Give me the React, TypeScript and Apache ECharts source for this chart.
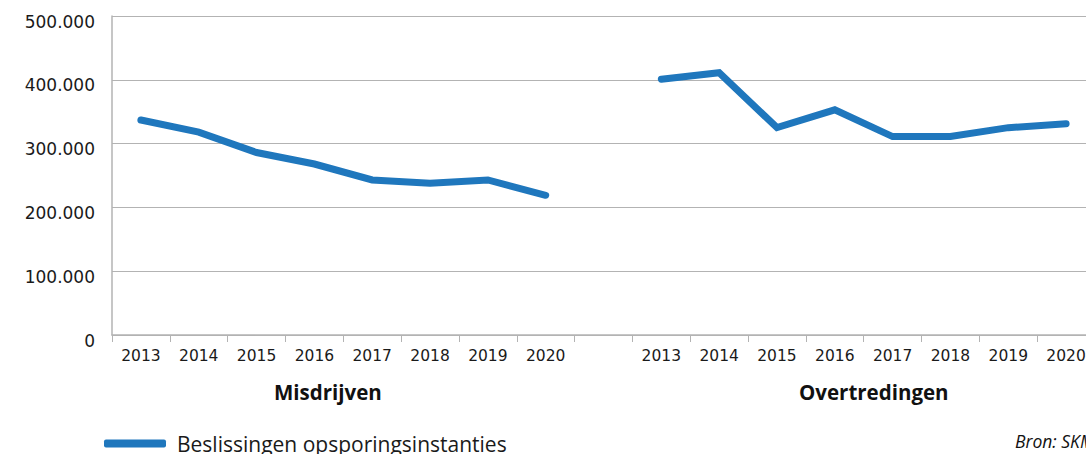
import React, { useEffect, useRef } from "react";
import * as echarts from "echarts";

const years = ["2013", "2014", "2015", "2016", "2017", "2018", "2019", "2020"];
const misdrijven = [337000, 318000, 286000, 268000, 243000, 238000, 243000, 219000];
const overtredingen = [401000, 411000, 325000, 353000, 311000, 311000, 325000, 331000];
const groupLabels = ["Misdrijven", "Overtredingen"];
const seriesName = "Beslissingen opsporingsinstanties";
const sourceText = "Bron: SKM";
const yTicks = [0, 100000, 200000, 300000, 400000, 500000];

const BLUE = "#1f77bd";
const GRID = "#b3b3b3";
const TEXT = "#1a1a1a";

export default function App() {
  const ref = useRef<HTMLDivElement>(null);
  useEffect(() => {
    if (!ref.current) return;
    const chart = echarts.init(ref.current, undefined, { renderer: "svg" });
    const categories = [...years, "", ...years];
    const values = [...misdrijven, null, ...overtredingen];
    chart.setOption({
      animation: false,
      backgroundColor: "#ffffff",
      grid: { left: 112, right: 0, top: 16, bottom: 119, containLabel: false },
      xAxis: {
        type: "category",
        data: categories,
        boundaryGap: true,
        axisLine: { show: true, lineStyle: { color: GRID, width: 1.5 } },
        axisTick: { show: true, length: 7, lineStyle: { color: GRID, width: 1 } },
        axisLabel: {
          interval: 0,
          margin: 13,
          color: TEXT,
          fontFamily: "DejaVu Sans",
          fontSize: 15.5,
        },
      },
      yAxis: {
        type: "value",
        min: yTicks[0],
        max: yTicks[yTicks.length - 1],
        interval: 100000,
        axisLine: { show: true, lineStyle: { color: GRID, width: 1.5 } },
        axisTick: { show: false },
        splitLine: { show: true, lineStyle: { color: GRID, width: 1.2 } },
        axisLabel: {
          margin: 17,
          color: TEXT,
          fontFamily: "DejaVu Sans",
          fontSize: 17,
          verticalAlign: "top",
          lineHeight: 11,
          formatter: (v: number) => (v === 0 ? "0" : v.toLocaleString("nl-NL").replace(/,/g, ".")),
        },
      },
      legend: {
        show: true,
        left: 99,
        top: 428,
        icon: "roundRect",
        itemWidth: 62,
        itemHeight: 8,
        data: [seriesName],
        textStyle: {
          color: TEXT,
          fontFamily: "Open Sans",
          fontSize: 21,
          padding: [0, 0, 0, 6],
        },
      },
      series: [
        {
          name: seriesName,
          type: "line",
          data: values,
          connectNulls: false,
          showSymbol: false,
          symbol: "none",
          color: BLUE,
          lineStyle: { color: BLUE, width: 7, cap: "round", join: "miter" },
        },
      ],
      graphic: [
        {
          type: "text",
          left: 274,
          top: 381,
          style: {
            text: groupLabels[0],
            fill: "#111",
            font: "bold 20.5px 'Open Sans'",
          },
        },
        {
          type: "text",
          left: 799,
          top: 381,
          style: {
            text: groupLabels[1],
            fill: "#111",
            font: "bold 20.5px 'Open Sans'",
          },
        },
        {
          type: "text",
          left: 1015,
          top: 432,
          style: {
            text: sourceText,
            fill: "#111",
            font: "italic 17.5px 'Open Sans'",
          },
        },
      ],
    });
    return () => chart.dispose();
  }, []);
  return (
    <div
      ref={ref}
      style={{ position: "fixed", left: 0, top: 0, width: 1095, height: 454, background: "#fff" }}
    />
  );
}
